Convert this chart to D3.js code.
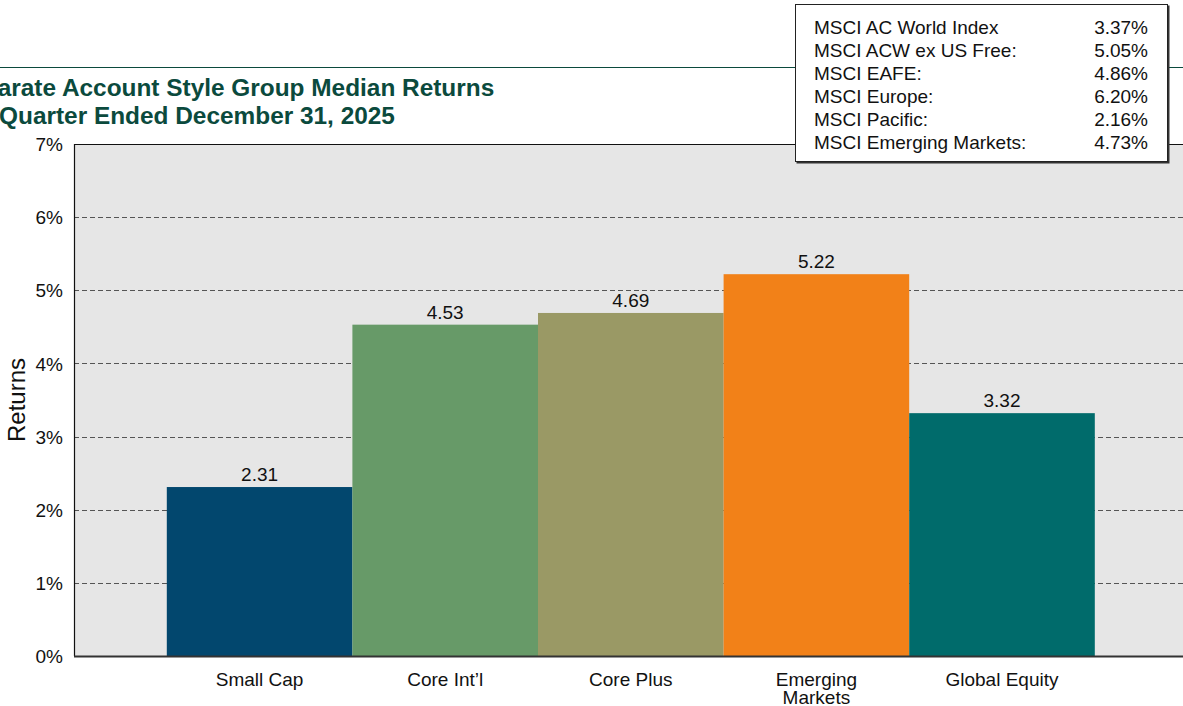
<!DOCTYPE html>
<html>
<head>
<meta charset="utf-8">
<script src="https://cdn.jsdelivr.net/npm/d3@7"></script>
<style>
  body { margin: 0; background: #fff; overflow: hidden; }
  svg { display: block; font-family: "Liberation Sans", Arial, sans-serif; }
</style>
</head>
<body>
<svg id="chart" width="1183" height="706"></svg>
<script>
// chart data
var categories = ["Small Cap", "Core Int\u2019l", "Core Plus", "Emerging Markets", "Global Equity"];
var medianReturns = [2.31, 4.53, 4.69, 5.22, 3.32];
var barColors = ["#02476e", "#679a68", "#9a9965", "#f28118", "#006b6b"];
var yTicks = [0, 1, 2, 3, 4, 5, 6, 7];

var indexNames = ["MSCI AC World Index", "MSCI ACW ex US Free:", "MSCI EAFE:", "MSCI Europe:", "MSCI Pacific:", "MSCI Emerging Markets:"];
var indexReturns = ["3.37%", "5.05%", "4.86%", "6.20%", "2.16%", "4.73%"];

var titleLines = ["Separate Account Style Group Median Returns", "For Quarter Ended December 31, 2025"];

var svg = d3.select("#chart");

var plotLeft = 74, plotTop = 144, plotBottom = 656;
var bandW = 185.6;
var plotRight = plotLeft + bandW * (categories.length + 1);

var x = d3.scaleBand().domain(categories).range([plotLeft, plotRight]).paddingInner(0).paddingOuter(0.5);
var y = d3.scaleLinear().domain([0, 7]).range([plotBottom, plotTop]);

// title rule
svg.append("line")
  .attr("x1", 0).attr("x2", 1183)
  .attr("y1", 67.5).attr("y2", 67.5)
  .attr("stroke", "#0b4a3d").attr("stroke-width", 1.2);

svg.selectAll("text.title").data(titleLines).enter().append("text")
  .attr("class", "title")
  .attr("x", -47)
  .attr("y", function(d, i) { return 96 + i * 28; })
  .attr("fill", "#0b4a3d")
  .attr("font-weight", "bold")
  .attr("font-size", 24.4)
  .text(function(d) { return d; });

// plot background
svg.append("rect")
  .attr("x", plotLeft).attr("y", plotTop)
  .attr("width", plotRight - plotLeft).attr("height", plotBottom - plotTop)
  .attr("fill", "#e6e6e6");

// gridlines
svg.selectAll("line.grid").data(yTicks.filter(function(t) { return t > 0 && t < 7; })).enter()
  .append("line")
  .attr("class", "grid")
  .attr("x1", plotLeft).attr("x2", plotRight)
  .attr("y1", function(d) { return Math.round(y(d)) + 0.5; })
  .attr("y2", function(d) { return Math.round(y(d)) + 0.5; })
  .attr("stroke", "#555")
  .attr("stroke-width", 1)
  .attr("stroke-dasharray", "5,3");

// bars
svg.selectAll("rect.bar").data(categories).enter().append("rect")
  .attr("class", "bar")
  .attr("x", function(d) { return x(d); })
  .attr("y", function(d, i) { return y(medianReturns[i]); })
  .attr("width", x.bandwidth())
  .attr("height", function(d, i) { return plotBottom - y(medianReturns[i]); })
  .attr("fill", function(d, i) { return barColors[i]; });

// value labels
svg.selectAll("text.val").data(categories).enter().append("text")
  .attr("class", "val")
  .attr("x", function(d) { return x(d) + x.bandwidth() / 2; })
  .attr("y", function(d, i) { return y(medianReturns[i]) - 6; })
  .attr("text-anchor", "middle")
  .attr("font-size", 19)
  .attr("fill", "#111")
  .text(function(d, i) { return medianReturns[i].toFixed(2); });

// frame lines
svg.append("line").attr("x1", plotLeft).attr("x2", plotRight).attr("y1", plotTop + 0.5).attr("y2", plotTop + 0.5)
  .attr("stroke", "#111").attr("stroke-width", 1.2);
svg.append("line").attr("x1", plotLeft + 0.5).attr("x2", plotLeft + 0.5).attr("y1", plotTop).attr("y2", plotBottom)
  .attr("stroke", "#111").attr("stroke-width", 1.2);
svg.append("line").attr("x1", plotLeft).attr("x2", plotRight).attr("y1", plotBottom + 0.5).attr("y2", plotBottom + 0.5)
  .attr("stroke", "#333").attr("stroke-width", 1.8);

// y axis labels
var yAxis = d3.axisLeft(y).tickValues(yTicks).tickSize(0).tickPadding(11)
  .tickFormat(function(d) { return d + "%"; });
var yg = svg.append("g").attr("transform", "translate(" + plotLeft + ",0)").call(yAxis);
yg.select(".domain").remove();
yg.selectAll("text").attr("font-size", 19).attr("font-family", "Liberation Sans, Arial, sans-serif")
  .attr("fill", "#111").attr("dy", "0.35em");

svg.append("text")
  .attr("transform", "translate(25,400) rotate(-90)")
  .attr("text-anchor", "middle")
  .attr("font-size", 24)
  .attr("fill", "#111")
  .text("Returns");

// x axis labels
var xg = svg.append("g");
categories.forEach(function(c) {
  var words = c === "Emerging Markets" ? ["Emerging", "Markets"] : [c];
  var cx = x(c) + x.bandwidth() / 2;
  var t = xg.append("text")
    .attr("x", cx)
    .attr("y", 686)
    .attr("text-anchor", "middle")
    .attr("font-size", 19)
    .attr("fill", "#111");
  words.forEach(function(w, i) {
    t.append("tspan").attr("x", cx).attr("dy", i ? 18 : 0).text(w);
  });
});

// index box
var box = svg.append("g");
box.append("rect")
  .attr("x", 796.5).attr("y", 5.5)
  .attr("width", 373).attr("height", 158)
  .attr("fill", "#333");
box.append("rect")
  .attr("x", 795.5).attr("y", 4.5)
  .attr("width", 372).attr("height", 157)
  .attr("fill", "#fff").attr("stroke", "#222").attr("stroke-width", 1);
box.selectAll("text.name").data(indexNames).enter().append("text")
  .attr("class", "name")
  .attr("x", 814)
  .attr("y", function(d, i) { return 34 + i * 23; })
  .attr("font-size", 19)
  .attr("fill", "#111")
  .text(function(d) { return d; });
box.selectAll("text.ret").data(indexReturns).enter().append("text")
  .attr("class", "ret")
  .attr("x", 1148)
  .attr("y", function(d, i) { return 34 + i * 23; })
  .attr("text-anchor", "end")
  .attr("font-size", 19)
  .attr("fill", "#111")
  .text(function(d) { return d; });
</script>
</body>
</html>
